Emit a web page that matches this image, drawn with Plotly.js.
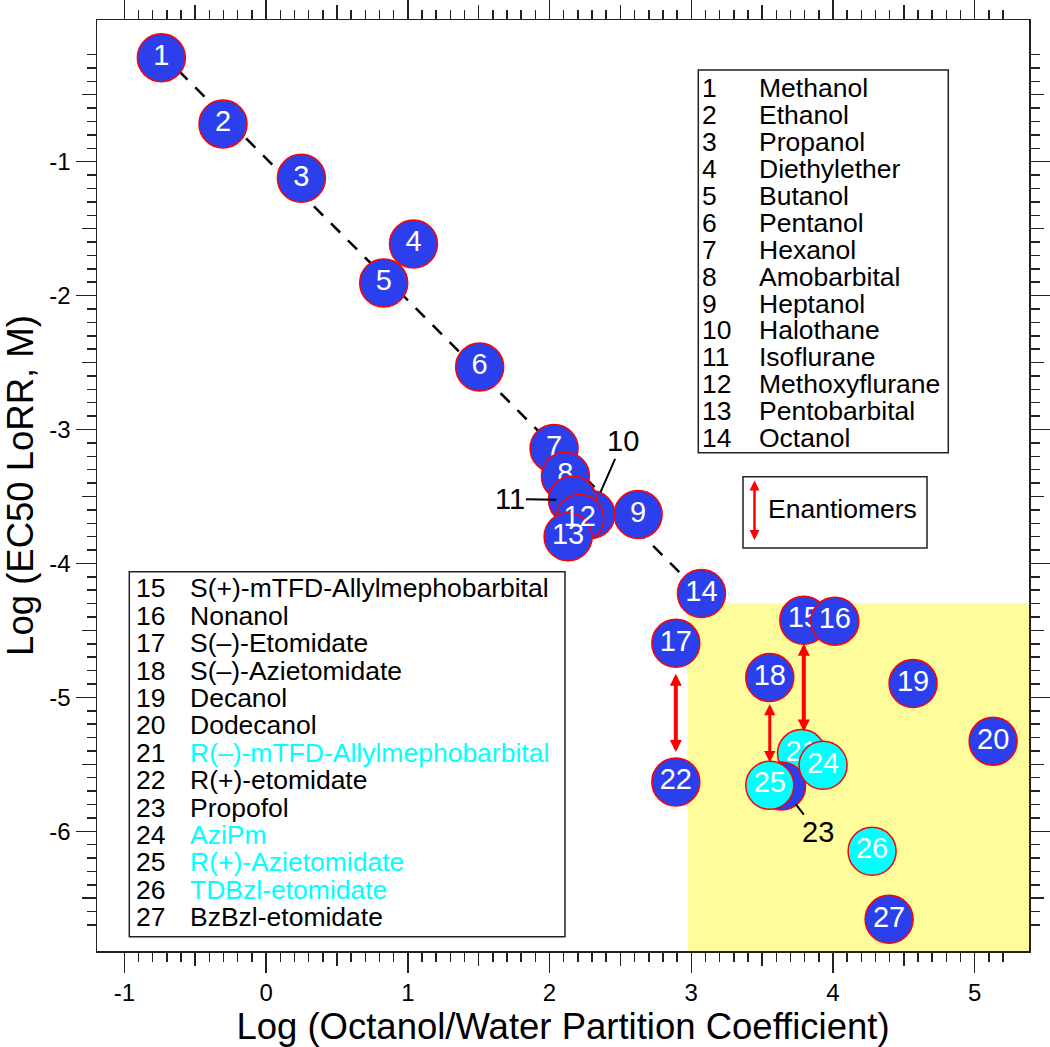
<!DOCTYPE html>
<html><head><meta charset="utf-8">
<script src="https://cdn.plot.ly/plotly-3.0.1.min.js"></script>
<style>html,body{margin:0;padding:0;background:#fff}#chart{width:1050px;height:1047px}</style>
</head><body><div id="chart"></div>
<script>
// ---------------- data ----------------
const ids = [1,2,3,4,5,6,7,8,9,10,11,12,13,14,15,16,17,18,19,20,21,22,23,24,25,26,27];
const logP = [-0.739,-0.304,0.249,1.04,0.83,1.507,2.032,2.112,2.625,2.291,2.162,2.213,2.131,3.072,
              3.794,4.013,2.891,3.554,4.565,5.130,3.778,2.891,3.637,3.930,3.554,4.276,4.396];
const logEC50 = [-0.223,-0.718,-1.124,-1.615,-1.906,-2.534,-3.141,-3.348,-3.634,-3.634,-3.527,-3.664,-3.801,-4.224,
                 -4.424,-4.431,-4.596,-4.852,-4.897,-5.328,-5.420,-5.632,-5.662,-5.507,-5.656,-6.149,-6.657];
const innerLabel = ['1','2','3','4','5','6','7','8','9','','','12','13','14','15','16','17','18','19','20','21','22','','24','25','26','27'];
const raisedLabelIds = [12,13];
const cyanIds = [21,24,25,26];
const fitX = [-0.739, 3.072];
const fitY = [-0.192, -4.231];
const namesA = ['Methanol','Ethanol','Propanol','Diethylether','Butanol','Pentanol','Hexanol','Amobarbital',
                'Heptanol','Halothane','Isoflurane','Methoxyflurane','Pentobarbital','Octanol'];
const namesB = ['S(+)-mTFD-Allylmephobarbital','Nonanol','S(\u2013)-Etomidate','S(\u2013)-Azietomidate','Decanol',
                'Dodecanol','R(\u2013)-mTFD-Allylmephobarbital','R(+)-etomidate','Propofol','AziPm',
                'R(+)-Azietomidate','TDBzl-etomidate','BzBzl-etomidate'];
const enantiomerPairs = [[17,22],[15,21],[18,25]];
const calloutIds = [10,11,23];
const xTickVals = [-1,0,1,2,3,4,5];
const xTickText = ['-1','0','1','2','3','4','5'];
const yTickVals = [-6,-5,-4,-3,-2,-1];
const yTickText = ['-6','-5','-4','-3','-2','-1'];
const xTitle = 'Log (Octanol/Water Partition Coefficient)';
const yTitle = 'Log (EC50 LoRR, M)';
const shadeX0 = 2.975, shadeYTop = -4.30;

// ---------------- styling ----------------
const FONT = 'Liberation Sans, Arial, Helvetica, sans-serif';
const BLUE = '#2b3fec', CYAN = '#00ffff', RED = '#ff0000', INK = '#222';
const W = 1050, H = 1047, M = {l:97, r:21, t:20, b:96};
const PW = W - M.l - M.r, PH = H - M.t - M.b;
const XR = [-1.193, 5.383], YR = [-6.894, 0.058];
const px = v => (v - M.l) / PW;
const py = v => (H - M.b - v) / PH;

function steps(a, b, keep) { const out = []; for (let i = a; i <= b; i++) if (keep(i)) out.push(i / 10); return out; }
const xMinor = steps(-10, 52, i => i % 5 !== 0);
const xHalf = steps(-10, 52, i => i % 5 === 0 && i % 10 !== 0);
const yMinor = steps(-67, -2, i => i % 5 !== 0);
const yHalf = steps(-67, -2, i => i % 5 === 0 && i % 10 !== 0);

const idx = id => ids.indexOf(id);
const MFS = 29;
const traces = [];
traces.push({x: fitX, y: fitY, mode: 'lines', line: {color: '#000', width: 2.5, dash: '13px,11px'},
  hoverinfo: 'skip', showlegend: false});
ids.forEach((id, i) => {
  const lbl = raisedLabelIds.includes(id) ? '' : innerLabel[i];
  traces.push({x: [logP[i]], y: [logEC50[i]], mode: 'markers+text', text: [lbl],
    textposition: 'middle center', textfont: {family: FONT, size: MFS, color: '#fff'},
    marker: {size: 48, color: cyanIds.includes(id) ? CYAN : BLUE, line: {color: RED, width: 1.5}},
    hoverinfo: 'skip', showlegend: false, cliponaxis: false});
});
traces.push({x: raisedLabelIds.map(id => logP[idx(id)]), y: raisedLabelIds.map(id => logEC50[idx(id)]),
  mode: 'text', text: raisedLabelIds.map(id => innerLabel[idx(id)]), textposition: 'middle center',
  textfont: {family: FONT, size: MFS, color: '#fff'}, hoverinfo: 'skip', showlegend: false, cliponaxis: false});
traces.push({x: [], y: [], xaxis: 'x2', yaxis: 'y2', mode: 'markers', hoverinfo: 'skip', showlegend: false});

const shapes = [];
shapes.push({type: 'rect', xref: 'x', yref: 'y', x0: shadeX0, x1: XR[1], y0: YR[0], y1: shadeYTop,
  fillcolor: '#fffc9c', line: {width: 0}, layer: 'below'});
const box = (x0, y0, x1, y1) => ({type: 'rect', xref: 'paper', yref: 'paper', x0: px(x0), x1: px(x1),
  y0: py(y1), y1: py(y0), line: {color: INK, width: 1.5}, fillcolor: 'rgba(0,0,0,0)'});
shapes.push(box(698.3, 70, 948.3, 452.7));
shapes.push(box(129.3, 571.7, 565, 936.7));
shapes.push(box(743, 476.7, 927, 548));

const ann = [];
const LFS = 26.5;
namesA.forEach((n, k) => {
  const yy = 88.3 + k * 26.9;
  ann.push({xref: 'paper', yref: 'paper', x: px(700), y: py(yy), xanchor: 'left', yanchor: 'middle',
    text: String(ids[k]), showarrow: false, font: {family: FONT, size: LFS, color: '#000'}});
  ann.push({xref: 'paper', yref: 'paper', x: px(756.5), y: py(yy), xanchor: 'left', yanchor: 'middle',
    text: n, showarrow: false, font: {family: FONT, size: LFS, color: '#000'}});
});
namesB.forEach((n, k) => {
  const id = ids[14 + k];
  const yy = 588.3 + k * 27.4;
  const col = cyanIds.includes(id) ? CYAN : '#000';
  ann.push({xref: 'paper', yref: 'paper', x: px(133.5), y: py(yy), xanchor: 'left', yanchor: 'middle',
    text: String(id), showarrow: false, font: {family: FONT, size: LFS, color: '#000'}});
  ann.push({xref: 'paper', yref: 'paper', x: px(187.5), y: py(yy), xanchor: 'left', yanchor: 'middle',
    text: n, showarrow: false, font: {family: FONT, size: LFS, color: col}});
});
ann.push({xref: 'paper', yref: 'paper', x: px(754.5), y: py(540), axref: 'paper', ayref: 'paper',
  ax: px(754.5), ay: py(479), text: '', showarrow: true, arrowhead: 2, startarrowhead: 2, arrowside: 'end+start',
  arrowwidth: 2.5, arrowsize: 0.8, startarrowsize: 0.8, arrowcolor: RED});
ann.push({xref: 'paper', yref: 'paper', x: px(765.5), y: py(509), xanchor: 'left', yanchor: 'middle',
  text: 'Enantiomers', showarrow: false, font: {family: FONT, size: LFS, color: '#000'}});
const pairStyle = [{w: 4, s: 0.6, a: 29, b: 30}, {w: 4, s: 0.6, a: 22, b: 22}, {w: 3, s: 0.75, a: 25, b: 23}];
enantiomerPairs.forEach(([up, dn], k) => {
  const st = pairStyle[k];
  ann.push({xref: 'x', yref: 'y', axref: 'x', ayref: 'y', x: logP[idx(up)], y: logEC50[idx(dn)],
    ax: logP[idx(up)], ay: logEC50[idx(up)], text: '', showarrow: true, arrowside: 'end+start',
    arrowhead: 2, startarrowhead: 2, arrowwidth: st.w, arrowsize: st.s, startarrowsize: st.s,
    arrowcolor: RED, standoff: st.b, startstandoff: st.a});
});
const callStyle = [{ax: 32, ay: -73, so: 24}, {ax: -63, ay: -1, so: 16}, {ax: 36, ay: 46, so: 23}];
calloutIds.forEach((id, k) => {
  const st = callStyle[k];
  ann.push({xref: 'x', yref: 'y', x: logP[idx(id)], y: logEC50[idx(id)], text: String(id),
    showarrow: true, arrowhead: 0, arrowwidth: 2, arrowcolor: '#000', ax: st.ax, ay: st.ay, standoff: st.so,
    font: {family: FONT, size: 29, color: '#000'}});
});

const axBase = {showgrid: false, zeroline: false, ticks: 'outside', tickwidth: 1.5, tickcolor: INK,
  mirror: 'ticks', fixedrange: true};
const layout = {
  width: W, height: H, margin: M, paper_bgcolor: '#fff', plot_bgcolor: '#fff',
  font: {family: FONT, color: '#000'}, showlegend: false,
  xaxis: Object.assign({}, axBase, {range: XR, tickmode: 'array', tickvals: xTickVals, ticktext: xTickText,
    ticklen: 20, showline: true, linecolor: INK, linewidth: 1.5, tickfont: {family: FONT, size: 24},
    title: {text: xTitle, font: {family: FONT, size: 36.5}, standoff: 5},
    minor: {tickmode: 'array', tickvals: xMinor, ticks: 'outside', ticklen: 9, tickwidth: 1.5, tickcolor: INK, showgrid: false}}),
  yaxis: Object.assign({}, axBase, {range: YR, tickmode: 'array', tickvals: yTickVals, ticktext: yTickText,
    ticklen: 20, showline: true, linecolor: INK, linewidth: 1.5, tickfont: {family: FONT, size: 24},
    title: {text: yTitle, font: {family: FONT, size: 36.5}, standoff: 9},
    minor: {tickmode: 'array', tickvals: yMinor, ticks: 'outside', ticklen: 9, tickwidth: 1.5, tickcolor: INK, showgrid: false}}),
  xaxis2: Object.assign({}, axBase, {overlaying: 'x', anchor: 'y2', side: 'bottom', range: XR, tickmode: 'array',
    tickvals: xHalf, ticklen: 14, showticklabels: false, showline: false}),
  yaxis2: Object.assign({}, axBase, {overlaying: 'y', anchor: 'x2', side: 'left', range: YR, tickmode: 'array',
    tickvals: yHalf, ticklen: 14, showticklabels: false, showline: false}),
  shapes: shapes, annotations: ann
};
Plotly.newPlot('chart', traces, layout, {staticPlot: true, displayModeBar: false});
</script></body></html>
